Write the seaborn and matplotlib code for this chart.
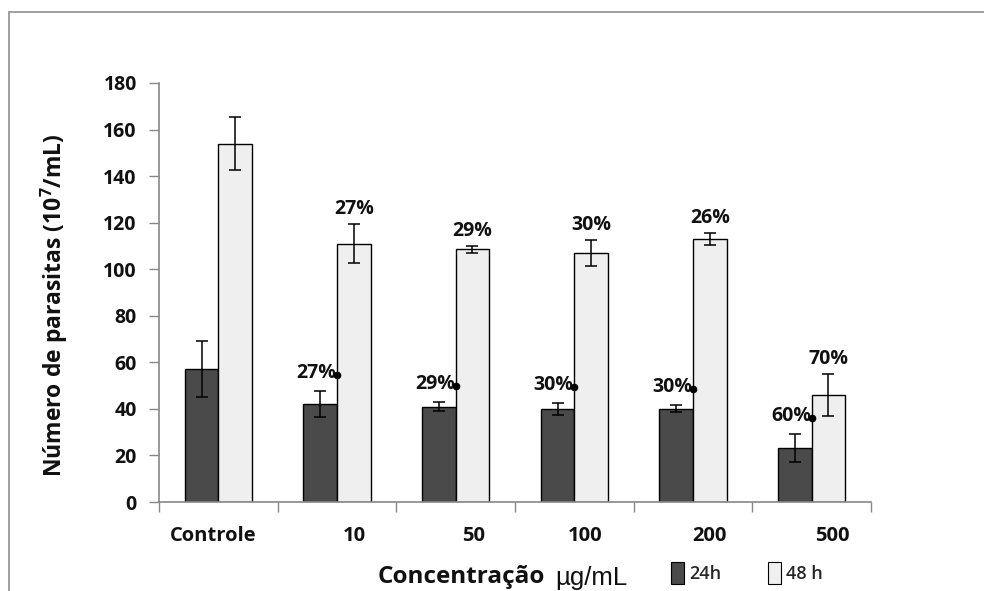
import numpy as np
import pandas as pd
import matplotlib
matplotlib.use("Agg")
import matplotlib.pyplot as plt
import matplotlib.transforms as mtransforms
from matplotlib.lines import Line2D
import seaborn as sns

# Parasite counts (10^7/mL) per concentration, at 24 h and 48 h
categories = ["Controle", "10", "50", "100", "200", "500"]
mean_24h = [57, 42, 41, 40, 40, 23]
err_24h = [12, 5.5, 2, 2.5, 1.5, 6]
mean_48h = [154, 111, 108.5, 107, 113, 46]
err_48h = [11.5, 8.5, 1.5, 5.5, 2.5, 9]
# Inhibition percentages (no label for the control)
pct_24h = [None, "27%", "29%", "30%", "30%", "60%"]
pct_48h = [None, "27%", "29%", "30%", "26%", "70%"]
series = ["24h", "48 h"]

df = pd.DataFrame({
    "conc": categories * 2,
    "tempo": [series[0]] * len(categories) + [series[1]] * len(categories),
    "valor": mean_24h + mean_48h,
})

sns.set_theme(style="white")
plt.rcParams["font.family"] = ["Open Sans", "DejaVu Sans"]
plt.rcParams["mathtext.fontset"] = "custom"
plt.rcParams["mathtext.bf"] = "Open Sans:bold"
plt.rcParams["mathtext.rm"] = "Open Sans"

fig = plt.figure(figsize=(9.84, 5.91), dpi=100)
ax = fig.add_axes([159 / 984, 1 - 502 / 591, (871 - 159) / 984, (502 - 83) / 591])

dark, light = "#4a4a4a", "#efefef"
sns.barplot(data=df, x="conc", y="valor", hue="tempo", order=categories,
            hue_order=series, palette=[dark, light], width=0.565,
            edgecolor="black", linewidth=1.0, errorbar=None, legend=False, ax=ax)

conts = ax.containers
for cont, errs in zip(conts, [err_24h, err_48h]):
    xs = [p.get_x() + p.get_width() / 2 for p in cont.patches]
    hs = [p.get_height() for p in cont.patches]
    ax.errorbar(xs, hs, yerr=errs, fmt="none", ecolor="black",
                elinewidth=1.1, capsize=4.5, capthick=1.1, zorder=5)

# Percentage labels: 24 h with a dot at the bar's corner, 48 h centred above
for i, p in enumerate(conts[0].patches):
    if pct_24h[i] is None:
        continue
    xr = p.get_x() + p.get_width()
    yl = mean_24h[i] + err_24h[i] + 7
    ax.plot([xr], [yl], marker="o", color="black", markersize=4.5, zorder=6)
    ax.text(xr - 0.005, yl + 0.8, pct_24h[i], ha="right", va="center",
            fontsize=14, fontweight="bold", color="#111111")
for i, p in enumerate(conts[1].patches):
    if pct_48h[i] is None:
        continue
    xc = p.get_x() + p.get_width() / 2
    yl = mean_48h[i] + err_48h[i] + 2.0
    ax.text(xc, yl, pct_48h[i], ha="center", va="bottom",
            fontsize=14, fontweight="bold", color="#111111")

ax.set_ylim(0, 180)
ax.set_xlim(-0.5, len(categories) - 0.5)
ax.set_yticks(np.arange(0, 181, 20))
ax.tick_params(axis="y", which="major", direction="out", length=7, width=1,
               color="#888888", labelsize=14, pad=9, left=True,
               labelcolor="#111111")
for lab in ax.get_yticklabels():
    lab.set_fontweight("bold")

# Category ticks at group boundaries, labels at group centres
ax.set_xticks(np.arange(len(categories)))
ax.set_xticks(np.arange(-0.5, len(categories)), minor=True)
ax.tick_params(axis="x", which="major", length=0, labelsize=14.5, pad=17,
               labelcolor="#111111")
ax.tick_params(axis="x", which="minor", direction="out", length=7, width=1,
               color="#888888", bottom=True)
label_shift = [-5, 17, 18, 11, 16, 21]
for lab, dx in zip(ax.get_xticklabels(), label_shift):
    lab.set_fontweight("bold")
    lab.set_transform(lab.get_transform() +
                      mtransforms.ScaledTranslation(dx / 100, 0, fig.dpi_scale_trans))

for s in ["top", "right"]:
    ax.spines[s].set_visible(False)
for s in ["left", "bottom"]:
    ax.spines[s].set_color("#888888")
    ax.spines[s].set_linewidth(1.2)

ax.set_xlabel("")
ax.set_ylabel("Número de parasitas (10$^{\\mathbf{7}}$/mL)", fontsize=16.5,
              fontweight="bold", color="#111111")
ax.yaxis.set_label_coords(-0.125, 0.47)

# Axis title below the categories
fig.text(545 / 984, 1 - 577 / 591, "Concentração", ha="right", va="center",
         fontsize=17.5, fontweight="bold", color="#111111")
fig.text(555 / 984, 1 - 578 / 591, "µg/mL", ha="left", va="center",
         fontsize=18.5, family=["Liberation Sans", "DejaVu Sans"], color="#111111")

# Legend
handles = [plt.Rectangle((0, 0), 1, 1, facecolor=c, edgecolor="black", linewidth=0.8)
           for c in (dark, light)]
fig.legend(handles, series, loc="center left", ncol=2, frameon=False,
           bbox_to_anchor=(655 / 984, 1 - 573 / 591), handlelength=0.7,
           handleheight=1.5, handletextpad=0.3, columnspacing=2.6,
           prop={"family": ["Open Sans", "DejaVu Sans"], "size": 13,
                 "weight": "semibold"})

# Thin frame along the top and left of the figure
fig.add_artist(Line2D([9 / 984, 9 / 984], [0, 1 - 12 / 591],
                      transform=fig.transFigure, color="#999999", linewidth=1.3))
fig.add_artist(Line2D([9 / 984, 1], [1 - 12 / 591, 1 - 12 / 591],
                      transform=fig.transFigure, color="#999999", linewidth=1.3))

fig.savefig("out.png", dpi=100)
